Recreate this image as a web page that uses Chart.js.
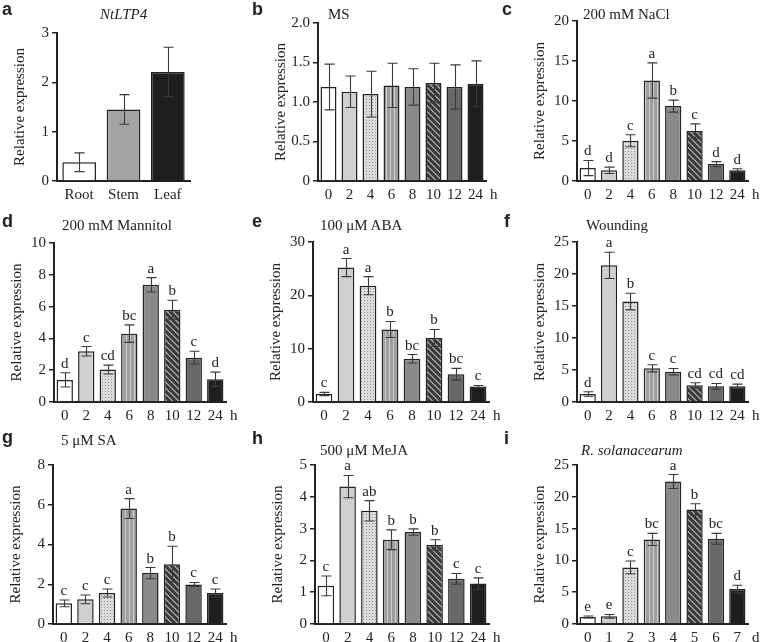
<!DOCTYPE html>
<html>
<head>
<meta charset="utf-8">
<script src="https://cdn.jsdelivr.net/npm/chart.js@4"></script>
<style>
  html, body { margin: 0; padding: 0; background: #fff; overflow: hidden; }
  #page { position: relative; width: 760px; height: 642px; }
  canvas { position: absolute; }
  .txt { position: absolute; line-height: 1; white-space: nowrap; color: #222; }
  .letter { font-family: "Liberation Sans", Arial, sans-serif; font-weight: bold; font-size: 18px; }
  .title { font-family: "Liberation Serif", "Times New Roman", serif; font-size: 15px; }
</style>
</head>
<body>
<div id="page"></div>
<script>
const tissueLabels = ["Root", "Stem", "Leaf"];
const hourLabels = ["0", "2", "4", "6", "8", "10", "12", "24"];
const dayLabels = ["0", "1", "2", "3", "4", "5", "6", "7"];

const tissueMean = [0.38, 1.45, 2.21];
const tissueErr = [0.19, 0.30, 0.50];

const msMean = [1.19, 1.13, 1.10, 1.21, 1.19, 1.24, 1.19, 1.23];
const msErr = [0.29, 0.20, 0.29, 0.28, 0.23, 0.25, 0.28, 0.29];

const naclMean = [1.62, 1.33, 5.03, 12.56, 9.36, 6.24, 2.12, 1.33];
const naclErr = [0.95, 0.40, 0.75, 2.20, 0.75, 0.90, 0.30, 0.20];
const naclLetters = ["d", "d", "c", "a", "b", "c", "d", "d"];

const mannitolMean = [1.39, 3.19, 2.04, 4.30, 7.37, 5.80, 2.79, 1.43];
const mannitolErr = [0.45, 0.30, 0.28, 0.55, 0.45, 0.60, 0.40, 0.45];
const mannitolLetters = ["d", "c", "cd", "bc", "a", "b", "c", "d"];

const abaMean = [1.5, 25.2, 21.8, 13.6, 8.1, 12.0, 5.2, 2.9];
const abaErr = [0.3, 1.7, 1.7, 1.5, 0.8, 1.6, 1.1, 0.2];
const abaLetters = ["c", "a", "a", "b", "bc", "b", "bc", "c"];

const woundMean = [1.25, 21.35, 15.7, 5.26, 4.74, 2.6, 2.45, 2.45];
const woundErr = [0.35, 2.05, 1.3, 0.55, 0.5, 0.4, 0.45, 0.35];
const woundLetters = ["d", "a", "b", "c", "c", "cd", "cd", "cd"];

const saMean = [1.04, 1.24, 1.56, 5.81, 2.56, 3.01, 1.99, 1.56];
const saErr = [0.17, 0.22, 0.20, 0.50, 0.28, 0.90, 0.10, 0.20];
const saLetters = ["c", "c", "c", "a", "b", "b", "c", "c"];

const mejaMean = [1.20, 4.32, 3.56, 2.65, 2.89, 2.49, 1.42, 1.27];
const mejaErr = [0.31, 0.35, 0.32, 0.31, 0.10, 0.16, 0.17, 0.18];
const mejaLetters = ["c", "a", "ab", "b", "b", "b", "c", "c"];

const rsMean = [1.1, 1.2, 8.9, 13.3, 22.4, 18.0, 13.4, 5.5];
const rsErr = [0.15, 0.3, 1.0, 0.95, 1.1, 0.9, 0.85, 0.6];
const rsLetters = ["e", "e", "c", "bc", "a", "b", "bc", "d"];

const serif = "'Liberation Serif', 'Times New Roman', serif";
const ink = "#222";

// fills for the bars
function dotsFill() {
  const c = document.createElement("canvas");
  c.width = c.height = 3;
  const g = c.getContext("2d");
  g.fillStyle = "#dcdcdc";
  g.fillRect(0, 0, 3, 3);
  g.fillStyle = "#8e8e8e";
  g.fillRect(1, 1, 1, 1);
  return g.createPattern(c, "repeat");
}
function stripesFill() {
  const c = document.createElement("canvas");
  c.width = 4; c.height = 1;
  const g = c.getContext("2d");
  g.fillStyle = "#9e9e9e";
  g.fillRect(0, 0, 4, 1);
  g.fillStyle = "#cdcdcd";
  g.fillRect(2, 0, 1, 1);
  return g.createPattern(c, "repeat");
}
function hatchFill() {
  const c = document.createElement("canvas");
  c.width = c.height = 6;
  const g = c.getContext("2d");
  for (let x = 0; x < 6; x++) {
    for (let y = 0; y < 6; y++) {
      g.fillStyle = ((x - y + 6) % 6) < 2 ? "#9a9a9a" : "#3a3a3a";
      g.fillRect(x, y, 1, 1);
    }
  }
  return g.createPattern(c, "repeat");
}

const seriesColors = ["#ffffff", "#d0d0d0", dotsFill(), stripesFill(), "#8a8a8a", hatchFill(), "#686868", "#1e1e1e"];
const tissueColors = ["#ffffff", "#a3a3a3", "#1e1e1e"];

// error bars, letters and the unit after the last label
const errorBars = {
  id: "errorBars",
  afterDatasetsDraw(chart, args, opts) {
    const { ctx, scales: { x, y } } = chart;
    const data = chart.data.datasets[0].data;
    const bars = chart.getDatasetMeta(0).data;
    ctx.save();
    bars.forEach((bar, i) => {
      const hi = y.getPixelForValue(data[i] + opts.err[i]);
      const lo = y.getPixelForValue(data[i] - opts.err[i]);
      const cx = Math.round(bar.x) + 0.5;
      ctx.strokeStyle = "#3a3a3a";
      ctx.lineWidth = 1.1;
      ctx.beginPath();
      ctx.moveTo(cx, hi); ctx.lineTo(cx, lo);
      ctx.moveTo(cx - 5, hi); ctx.lineTo(cx + 5, hi);
      ctx.moveTo(cx - 5, lo); ctx.lineTo(cx + 5, lo);
      ctx.stroke();
      if (opts.letters) {
        ctx.fillStyle = ink;
        ctx.font = "15px " + serif;
        ctx.textAlign = "center";
        ctx.textBaseline = "alphabetic";
        ctx.fillText(opts.letters[i], bar.x, hi - 5);
      }
    });
    if (opts.unit) {
      ctx.fillStyle = ink;
      ctx.font = "15px " + serif;
      ctx.textAlign = "left";
      ctx.textBaseline = "middle";
      ctx.fillText(opts.unit, chart.chartArea.right + 4, x.top + 5 + 9);
    }
    ctx.restore();
  }
};

const panels = [
  { letter: "a", title: "NtLTP4", italic: true, labels: tissueLabels, mean: tissueMean, err: tissueErr, letters: null, colors: tissueColors, max: 3, step: 1, unit: "" },
  { letter: "b", title: "MS", labels: hourLabels, mean: msMean, err: msErr, letters: null, colors: seriesColors, max: 2, step: 0.5, dec: true, unit: "h" },
  { letter: "c", title: "200 mM NaCl", labels: hourLabels, mean: naclMean, err: naclErr, letters: naclLetters, colors: seriesColors, max: 20, step: 5, unit: "h" },
  { letter: "d", title: "200 mM Mannitol", labels: hourLabels, mean: mannitolMean, err: mannitolErr, letters: mannitolLetters, colors: seriesColors, max: 10, step: 2, unit: "h" },
  { letter: "e", title: "100 μM ABA", labels: hourLabels, mean: abaMean, err: abaErr, letters: abaLetters, colors: seriesColors, max: 30, step: 10, unit: "h" },
  { letter: "f", title: "Wounding", labels: hourLabels, mean: woundMean, err: woundErr, letters: woundLetters, colors: seriesColors, max: 25, step: 5, unit: "h" },
  { letter: "g", title: "5 μM SA", labels: hourLabels, mean: saMean, err: saErr, letters: saLetters, colors: seriesColors, max: 8, step: 2, unit: "h" },
  { letter: "h", title: "500 μM MeJA", labels: hourLabels, mean: mejaMean, err: mejaErr, letters: mejaLetters, colors: seriesColors, max: 5, step: 1, unit: "h" },
  { letter: "i", title: "R. solanacearum", italic: true, labels: dayLabels, mean: rsMean, err: rsErr, letters: rsLetters, colors: seriesColors, max: 25, step: 5, unit: "d" },
];

// plot boxes on the page: left, top, right, bottom of the axes
const boxes = [
  { L: 57, T: 33, R: 190, B: 181, tx: 100, tb: 20, lx: 2, lb: 15 },
  { L: 318, T: 23, R: 486, B: 181, tx: 328, tb: 20, lx: 252, lb: 15 },
  { L: 577, T: 21, R: 748, B: 181, tx: 583, tb: 20, lx: 502, lb: 15 },
  { L: 54, T: 243, R: 226, B: 402, tx: 62, tb: 231, lx: 2, lb: 227 },
  { L: 313, T: 242, R: 489, B: 402, tx: 320, tb: 231, lx: 252, lb: 227 },
  { L: 577, T: 242, R: 748, B: 402, tx: 586, tb: 231, lx: 504, lb: 227 },
  { L: 53, T: 465, R: 226, B: 624, tx: 61, tb: 446, lx: 2, lb: 443 },
  { L: 315, T: 465, R: 489, B: 624, tx: 320, tb: 456, lx: 252, lb: 444 },
  { L: 577, T: 465, R: 748, B: 624, tx: 581, tb: 456, lx: 504, lb: 444 },
];

const page = document.getElementById("page");
const yW = 46, xH = 28, padTop = 30, padRight = 14;

function addText(cls, text, x, baseline, size, italic) {
  const d = document.createElement("div");
  d.className = "txt " + cls;
  d.textContent = text;
  d.style.left = x + "px";
  d.style.top = (baseline - 0.84 * size) + "px";
  if (italic) d.style.fontStyle = "italic";
  page.appendChild(d);
}

panels.forEach((p, k) => {
  const b = boxes[k];
  const cv = document.createElement("canvas");
  cv.width = yW + (b.R - b.L) + padRight;
  cv.height = padTop + (b.B - b.T) + xH;
  cv.style.left = (b.L - yW) + "px";
  cv.style.top = (b.T - padTop) + "px";
  page.appendChild(cv);

  addText("letter", p.letter, b.lx, b.lb, 18);
  addText("title", p.title, b.tx, b.tb, 15, p.italic);

  new Chart(cv, {
    type: "bar",
    data: {
      labels: p.labels,
      datasets: [{
        data: p.mean,
        backgroundColor: p.colors,
        borderColor: ink,
        borderWidth: 1.5,
        barPercentage: 0.76,
        categoryPercentage: 1,
      }],
    },
    options: {
      responsive: false,
      animation: false,
      devicePixelRatio: 1,
      layout: { padding: { top: padTop, right: padRight, left: 0, bottom: 0 } },
      plugins: {
        legend: { display: false },
        tooltip: { enabled: false },
        errorBars: { err: p.err, letters: p.letters, unit: p.unit },
      },
      scales: {
        x: {
          grid: { display: false, drawTicks: false },
          border: { color: ink, width: 2 },
          ticks: { color: ink, font: { family: serif, size: 15 }, padding: 5, maxRotation: 0, autoSkip: false },
          afterFit: (s) => { s.height = xH; },
        },
        y: {
          min: 0,
          max: p.max,
          ticks: {
            stepSize: p.step,
            color: ink,
            font: { family: serif, size: 15 },
            padding: 3,
            callback: (v) => (v === 0 ? "0" : p.dec ? v.toFixed(1) : String(v)),
          },
          grid: { drawOnChartArea: false, drawTicks: true, tickLength: 5, color: ink, lineWidth: 1.5 },
          border: { color: ink, width: 2 },
          title: { display: true, text: "Relative expression", color: ink, font: { family: serif, size: 15 }, padding: 0 },
          afterFit: (s) => { s.width = yW; },
        },
      },
    },
    plugins: [errorBars],
  });
});
</script>
</body>
</html>
